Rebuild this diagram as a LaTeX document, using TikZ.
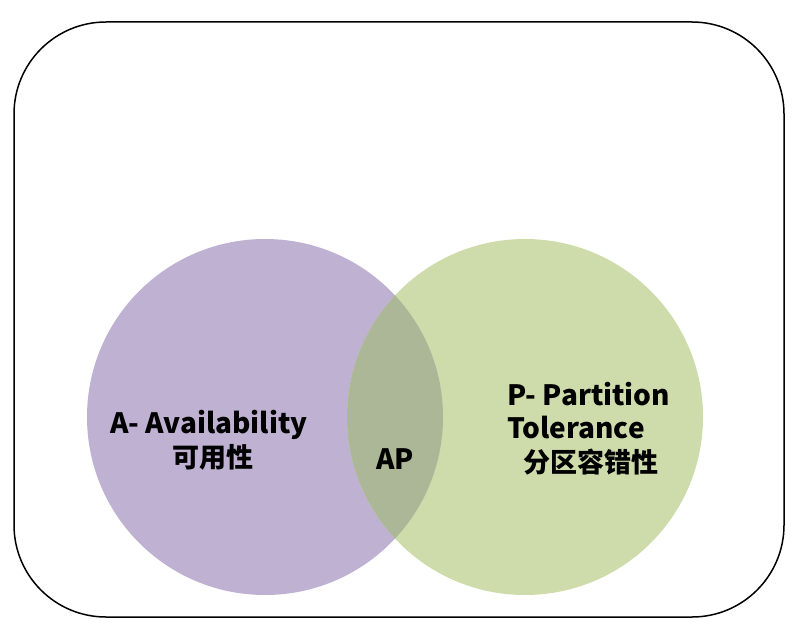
\documentclass[tikz,border=0pt]{standalone}
\usepackage{fontspec}
\setmainfont{Noto Sans CJK SC}
\definecolor{purp}{HTML}{BFB1D1}
\definecolor{grn}{HTML}{CEDCAB}
\definecolor{ovl}{HTML}{ABB797}
\begin{document}
\begin{tikzpicture}[x=1pt,y=-1pt,
  lbl/.style={font=\fontsize{27}{33}\selectfont\bfseries, inner sep=0pt, text=black},
  lat/.style={lbl, font=\fontsize{28}{33}\selectfont\bfseries}]
\useasboundingbox (0,0) rectangle (799,644);
\draw[line width=1.5pt, rounded corners=92pt] (14,22) rectangle (784,617);
\coordinate (ca) at (265,417);
\coordinate (cp) at (525,417);
\fill[purp] (ca) circle[radius=178];
\fill[grn] (cp) circle[radius=178];
\begin{scope}
  \clip (ca) circle[radius=178];
  \fill[ovl] (cp) circle[radius=178];
\end{scope}
\node[lat, anchor=base west] (a1) at (110,433) {A- Availability};
\node[lbl, anchor=base west] (a2) at (172,467) {可用性};
\node[lat, anchor=base west] (ap) at (376,469) {AP};
\node[lat, anchor=base west] (p1) at (507,405) {P- Partition};
\node[lat, anchor=base west] (p2) at (507,438) {Tolerance};
\node[lbl, anchor=base west] (p3) at (523,472) {分区容错性};
\end{tikzpicture}
\end{document}
